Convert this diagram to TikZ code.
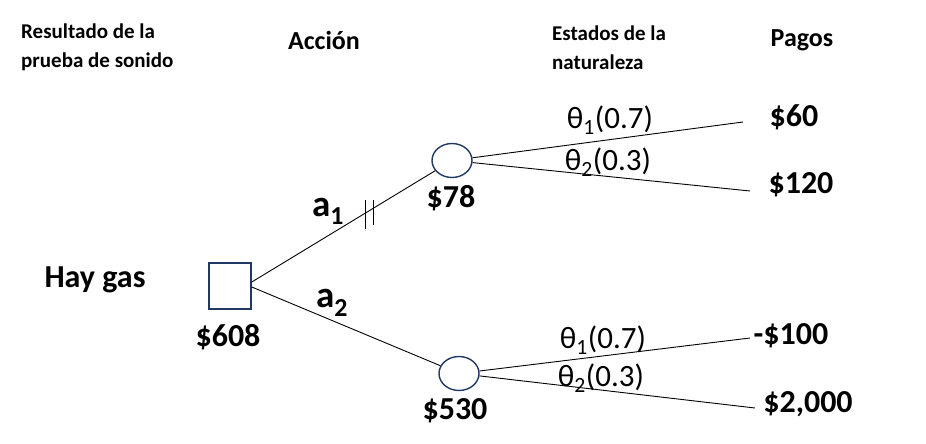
\documentclass[tikz,border=0pt]{standalone}
\usepackage{fontspec}
\setmainfont{Carlito}
\usetikzlibrary{shapes.geometric}
\definecolor{nodeblue}{HTML}{1F3864}

\begin{document}
\begin{tikzpicture}[x=1pt,y=-1pt,
    big/.style={font=\fontsize{32}{38}\selectfont\bfseries,inner sep=0pt},
    act/.style={font=\fontsize{37}{44}\selectfont\bfseries,inner sep=0pt},
    head/.style={font=\fontsize{26}{31}\selectfont\bfseries,inner sep=0pt},
    note/.style={font=\fontsize{21}{29}\selectfont\bfseries,inner sep=0pt,align=left,anchor=west},
    prob/.style={font=\fontsize{31}{37}\selectfont,inner sep=0pt},
    decision/.style={draw=nodeblue,line width=1.6pt,minimum width=42pt,minimum height=46pt,inner sep=0pt},
    chance/.style={draw=nodeblue,ellipse,line width=1.4pt,minimum width=40pt,minimum height=34pt,inner sep=0pt},
    branch/.style={line width=0.9pt}]
      \useasboundingbox (0,0) rectangle (926,444);

      % column headings
      \node[note] (res) at (21,47) {Resultado de la\\prueba de sonido};
      \node[head] (acc) at (324,40) {Acción};
      \node[note] (est) at (552,48) {Estados de la\\naturaleza};
      \node[head] (pag) at (802,40) {Pagos};

      % decision and chance nodes
      \node[decision] (sq) at (230,286) {};
      \node[chance] (c1) at (452,160.5) {};
      \node[chance] (c2) at (459,373.5) {};

      \node[big] (gas) at (95,280) {Hay gas};
      \node[big] (v0) at (228,337) {\$608};
      \node[big] (v1) at (451,198) {\$78};
      \node[big] (v2) at (455,411) {\$530};

      % payoffs
      \node[big] (p1) at (794,117) {\$60};
      \node[big] (p2) at (801,185) {\$120};
      \node[big] (p3) at (791,336) {-\$100};
      \node[big] (p4) at (808,404) {\$2,000};
      \coordinate (e1) at (743,122);
      \coordinate (e2) at (750,191);
      \coordinate (e3) at (750,338);
      \coordinate (e4) at (755,408);

      \path ([yshift=4pt]sq.east) edge[branch] (c1);
      \path ([yshift=-1pt]sq.east) edge[branch] (c2);
      \path (c1) edge[branch] (e1);
      \path (c1) edge[branch] (e2);
      \path (c2) edge[branch] (e3);
      \path (c2) edge[branch] (e4);

      % blocked branch
      \draw[branch] (365,200) -- (365,229);
      \draw[branch] (373,200) -- (373,225);

      \node[act] (a1) at (328,211) {a\textsubscript{1}};
      \node[act] (a2) at (332,303) {a\textsubscript{2}};

      \node[prob] (t1) at (610,120) {θ\textsubscript{1}(0.7)};
      \node[prob] (t2) at (608,162) {θ\textsubscript{2}(0.3)};
      \node[prob] (t3) at (603,340) {θ\textsubscript{1}(0.7)};
      \node[prob] (t4) at (601,378) {θ\textsubscript{2}(0.3)};
    \end{tikzpicture}
\end{document}
